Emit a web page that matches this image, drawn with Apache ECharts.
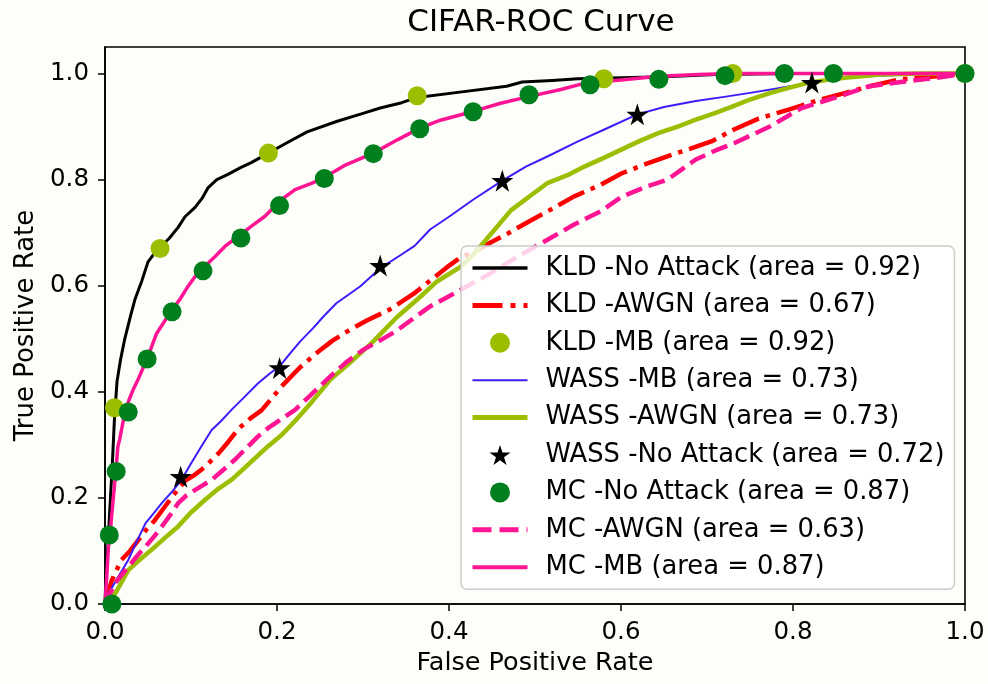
<!DOCTYPE html>
<html>
<head>
<meta charset="utf-8">
<script src="https://cdn.jsdelivr.net/npm/echarts@6/dist/echarts.min.js"></script>
<style>
  html, body { margin: 0; padding: 0; background: #fdfdf9; }
  #topline { position: absolute; left: 0; top: 0; width: 988px; height: 2px; background: #8a8a8a; }
  #chart { width: 988px; height: 684px; }
</style>
</head>
<body>
<div id="topline"></div>
<div id="chart"></div>
<script>
// ---- data ----
const xTicks = [0, 0.2, 0.4, 0.6, 0.8, 1.0];
const yTicks = [0, 0.2, 0.4, 0.6, 0.8, 1.0];

const seriesNames = [
  'KLD -No Attack (area = 0.92)',
  'KLD -AWGN (area = 0.67)',
  'KLD -MB (area = 0.92)',
  'WASS -MB (area = 0.73)',
  'WASS -AWGN (area = 0.73)',
  'WASS -No Attack (area = 0.72)',
  'MC -No Attack (area = 0.87)',
  'MC -AWGN (area = 0.63)',
  'MC -MB (area = 0.87)'
];

const kldNoAttackX = [0, 0.001, 0.003, 0.005, 0.007, 0.009, 0.011, 0.014, 0.018, 0.023, 0.030, 0.035, 0.043, 0.050, 0.057, 0.064, 0.075, 0.085, 0.093, 0.105, 0.113, 0.120, 0.130, 0.143, 0.157, 0.170, 0.190, 0.210, 0.235, 0.270, 0.300, 0.320, 0.345, 0.363, 0.408, 0.467, 0.485, 0.520, 0.550, 0.600, 0.650, 0.710, 0.800, 0.900, 1.0];
const kldNoAttackY = [0, 0.05, 0.10, 0.16, 0.22, 0.28, 0.35, 0.42, 0.46, 0.50, 0.545, 0.575, 0.61, 0.645, 0.66, 0.672, 0.69, 0.71, 0.73, 0.748, 0.765, 0.785, 0.80, 0.81, 0.822, 0.832, 0.85, 0.868, 0.89, 0.91, 0.925, 0.935, 0.945, 0.955, 0.964, 0.976, 0.984, 0.987, 0.99, 0.992, 0.994, 0.998, 1.0, 1.0, 1.0];

const kldAwgnX = [0, 0.008, 0.019, 0.029, 0.039, 0.048, 0.058, 0.068, 0.078, 0.093, 0.103, 0.112, 0.122, 0.132, 0.143, 0.155, 0.169, 0.182, 0.195, 0.207, 0.226, 0.246, 0.265, 0.285, 0.305, 0.331, 0.359, 0.380, 0.397, 0.413, 0.429, 0.450, 0.470, 0.494, 0.520, 0.545, 0.576, 0.601, 0.630, 0.654, 0.680, 0.705, 0.732, 0.760, 0.795, 0.830, 0.860, 0.889, 0.924, 0.967, 1.0];
const kldAwgnY = [0, 0.045, 0.083, 0.10, 0.121, 0.14, 0.158, 0.18, 0.202, 0.232, 0.242, 0.253, 0.268, 0.284, 0.305, 0.33, 0.35, 0.365, 0.39, 0.413, 0.445, 0.473, 0.497, 0.517, 0.535, 0.555, 0.585, 0.612, 0.634, 0.653, 0.664, 0.683, 0.70, 0.722, 0.745, 0.768, 0.79, 0.812, 0.83, 0.844, 0.858, 0.872, 0.895, 0.915, 0.932, 0.95, 0.963, 0.976, 0.989, 0.995, 1.0];

const kldMbX = [0.011, 0.064, 0.190, 0.363, 0.580, 0.730, 1.0];
const kldMbY = [0.37, 0.67, 0.85, 0.958, 0.99, 1.0, 1.0];

const wassMbX = [0, 0.004, 0.015, 0.027, 0.037, 0.047, 0.057, 0.066, 0.078, 0.089, 0.100, 0.112, 0.124, 0.135, 0.147, 0.162, 0.178, 0.192, 0.203, 0.215, 0.227, 0.242, 0.254, 0.269, 0.283, 0.297, 0.320, 0.343, 0.360, 0.378, 0.400, 0.428, 0.461, 0.490, 0.515, 0.550, 0.580, 0.619, 0.650, 0.687, 0.720, 0.752, 0.790, 0.821, 0.860, 0.900, 0.950, 1.0];
const wassMbY = [0, 0.02, 0.05, 0.083, 0.118, 0.152, 0.172, 0.19, 0.212, 0.234, 0.265, 0.297, 0.328, 0.345, 0.366, 0.39, 0.416, 0.435, 0.448, 0.472, 0.495, 0.52, 0.542, 0.567, 0.583, 0.599, 0.633, 0.657, 0.675, 0.706, 0.73, 0.762, 0.797, 0.825, 0.844, 0.872, 0.894, 0.923, 0.937, 0.948, 0.956, 0.964, 0.974, 0.982, 0.992, 0.996, 0.999, 1.0];

const wassAwgnX = [0, 0.012, 0.027, 0.040, 0.054, 0.070, 0.085, 0.099, 0.116, 0.130, 0.147, 0.162, 0.178, 0.190, 0.205, 0.221, 0.240, 0.262, 0.285, 0.312, 0.339, 0.370, 0.386, 0.413, 0.429, 0.450, 0.472, 0.495, 0.515, 0.540, 0.558, 0.580, 0.601, 0.622, 0.644, 0.666, 0.687, 0.710, 0.730, 0.750, 0.773, 0.795, 0.816, 0.840, 0.860, 0.902, 0.950, 1.0];
const wassAwgnY = [0, 0.02, 0.064, 0.083, 0.102, 0.125, 0.146, 0.171, 0.196, 0.215, 0.234, 0.256, 0.28, 0.298, 0.318, 0.345, 0.38, 0.423, 0.455, 0.495, 0.54, 0.584, 0.608, 0.635, 0.66, 0.70, 0.742, 0.77, 0.794, 0.81, 0.825, 0.841, 0.857, 0.873, 0.888, 0.90, 0.913, 0.926, 0.938, 0.951, 0.963, 0.973, 0.982, 0.988, 0.992, 0.998, 1.0, 1.0];

const wassNoAttackX = [0.088, 0.203, 0.320, 0.462, 0.619, 0.822];
const wassNoAttackY = [0.24, 0.445, 0.638, 0.798, 0.923, 0.983];

const mcNoAttackX = [0.008, 0.005, 0.013, 0.027, 0.049, 0.078, 0.114, 0.158, 0.203, 0.255, 0.312, 0.366, 0.428, 0.493, 0.564, 0.644, 0.721, 0.790, 0.847, 1.0];
const mcNoAttackY = [0.0, 0.13, 0.25, 0.362, 0.462, 0.551, 0.628, 0.69, 0.751, 0.802, 0.849, 0.896, 0.928, 0.96, 0.979, 0.989, 0.996, 1.0, 1.0, 1.0];

const mcAwgnX = [0, 0.012, 0.027, 0.037, 0.047, 0.057, 0.066, 0.076, 0.085, 0.095, 0.105, 0.115, 0.124, 0.137, 0.151, 0.165, 0.178, 0.190, 0.202, 0.221, 0.240, 0.262, 0.280, 0.300, 0.320, 0.339, 0.360, 0.378, 0.400, 0.421, 0.450, 0.480, 0.515, 0.545, 0.576, 0.601, 0.630, 0.654, 0.687, 0.710, 0.732, 0.773, 0.810, 0.850, 0.889, 0.930, 0.967, 1.0];
const mcAwgnY = [0, 0.04, 0.07, 0.09, 0.108, 0.127, 0.146, 0.168, 0.19, 0.205, 0.215, 0.225, 0.234, 0.252, 0.272, 0.295, 0.316, 0.332, 0.345, 0.366, 0.395, 0.429, 0.455, 0.479, 0.497, 0.515, 0.54, 0.561, 0.58, 0.599, 0.625, 0.655, 0.687, 0.715, 0.74, 0.768, 0.787, 0.80, 0.838, 0.855, 0.869, 0.90, 0.935, 0.955, 0.976, 0.985, 0.992, 1.0];

const mcMbX = [0, 0.002, 0.004, 0.006, 0.008, 0.012, 0.015, 0.017, 0.023, 0.028, 0.033, 0.039, 0.050, 0.060, 0.070, 0.078, 0.087, 0.095, 0.105, 0.115, 0.128, 0.140, 0.155, 0.170, 0.186, 0.205, 0.221, 0.240, 0.254, 0.280, 0.312, 0.340, 0.366, 0.390, 0.429, 0.460, 0.494, 0.530, 0.558, 0.600, 0.644, 0.690, 0.730, 0.800, 0.900, 1.0];
const mcMbY = [0, 0.05, 0.108, 0.134, 0.171, 0.24, 0.297, 0.31, 0.36, 0.385, 0.405, 0.425, 0.467, 0.51, 0.535, 0.555, 0.574, 0.595, 0.618, 0.635, 0.655, 0.675, 0.693, 0.712, 0.731, 0.762, 0.781, 0.793, 0.803, 0.828, 0.85, 0.875, 0.897, 0.912, 0.929, 0.944, 0.957, 0.97, 0.982, 0.988, 0.995, 0.998, 1.0, 1.0, 1.0, 1.0];

// ---- build ----
const zip = (xs, ys) => xs.map((x, i) => [x, ys[i]]);
const FONT = 'DejaVu Sans';
const C = {
  black: '#000000', red: '#ff0000', yg: '#9bbf00', blue: '#3a1dfb',
  green: '#007f1f', pink: '#ff1493'
};
const STAR = 'path://M50,0 L61.2,34.5 L97.6,34.5 L68.2,55.9 L79.4,90.5 L50,69.1 L20.6,90.5 L31.8,55.9 L2.4,34.5 L38.8,34.5 Z';
const HIDDEN = { color: 'rgba(0,0,0,0)', borderColor: 'rgba(0,0,0,0)', borderWidth: 0, opacity: 0 };

function lineSeries(name, xs, ys, color, width, type) {
  return {
    name, type: 'line', data: zip(xs, ys), symbol: 'none', showSymbol: false,
    lineStyle: { color, width, type: type || 'solid', cap: 'butt', join: 'round' },
    itemStyle: { color }, z: 2
  };
}
function scatterSeries(name, xs, ys, color, symbol, size) {
  return {
    name, type: 'scatter', data: zip(xs, ys), symbol, symbolSize: size,
    itemStyle: { color, opacity: 1 }, z: 2
  };
}

const series = [
  lineSeries(seriesNames[0], kldNoAttackX, kldNoAttackY, C.black, 3),
  lineSeries(seriesNames[1], kldAwgnX, kldAwgnY, C.red, 4.5, [29, 7, 4.5, 7]),
  scatterSeries(seriesNames[2], kldMbX, kldMbY, C.yg, 'circle', 19),
  lineSeries(seriesNames[3], wassMbX, wassMbY, C.blue, 2),
  lineSeries(seriesNames[4], wassAwgnX, wassAwgnY, C.yg, 4.5),
  scatterSeries(seriesNames[5], wassNoAttackX, wassNoAttackY, C.black, STAR, 22),
  scatterSeries(seriesNames[6], mcNoAttackX, mcNoAttackY, C.green, 'circle', 19),
  lineSeries(seriesNames[7], mcAwgnX, mcAwgnY, C.pink, 4.5, [17, 7]),
  lineSeries(seriesNames[8], mcMbX, mcMbY, C.pink, 3.5)
];

const legendData = [
  { name: seriesNames[0], itemStyle: HIDDEN, lineStyle: { width: 3.5, color: C.black } },
  { name: seriesNames[1], itemStyle: HIDDEN, lineStyle: { width: 5, color: C.red, type: [30, 8, 5, 8] } },
  { name: seriesNames[2], icon: 'circle', itemStyle: { color: C.yg } },
  { name: seriesNames[3], itemStyle: HIDDEN, lineStyle: { width: 2, color: C.blue } },
  { name: seriesNames[4], itemStyle: HIDDEN, lineStyle: { width: 5, color: C.yg } },
  { name: seriesNames[5], icon: STAR, itemStyle: { color: C.black } },
  { name: seriesNames[6], icon: 'circle', itemStyle: { color: C.green } },
  { name: seriesNames[7], itemStyle: HIDDEN, lineStyle: { width: 5, color: C.pink, type: [19, 8] } },
  { name: seriesNames[8], itemStyle: HIDDEN, lineStyle: { width: 4, color: C.pink } }
];

const axisText = { fontFamily: FONT, fontSize: 24.5, color: '#000' };

const option = {
  backgroundColor: '#fdfdf9',
  animation: false,
  title: {
    text: 'CIFAR-ROC Curve', left: 536, top: 2, textAlign: 'center',
    textStyle: { fontFamily: FONT, fontSize: 31, fontWeight: 'normal', color: '#000' }
  },
  grid: {
    left: 105, right: 23, top: 47, bottom: 80, show: true,
    borderColor: '#000', borderWidth: 1.6, backgroundColor: 'transparent'
  },
  xAxis: {
    type: 'value', min: 0, max: 1, interval: 0.2,
    name: 'False Positive Rate', nameLocation: 'middle', nameGap: 46,
    nameTextStyle: { fontFamily: FONT, fontSize: 25.5, color: '#000' },
    axisLine: { show: true, lineStyle: { color: '#000', width: 1.6 } },
    axisTick: { show: true, length: 7, lineStyle: { color: '#000', width: 1.5 }, customValues: xTicks },
    axisLabel: { ...axisText, margin: 16, customValues: xTicks, formatter: v => v.toFixed(1) },
    splitLine: { show: false }
  },
  yAxis: {
    type: 'value', min: 0, max: 1.05, interval: 0.2,
    name: 'True Positive Rate', nameLocation: 'middle', nameGap: 63,
    nameTextStyle: { fontFamily: FONT, fontSize: 26, color: '#000' },
    axisLine: { show: true, lineStyle: { color: '#000', width: 1.6 } },
    axisTick: { show: true, length: 7, lineStyle: { color: '#000', width: 1.5 }, customValues: yTicks },
    axisLabel: { ...axisText, margin: 16, customValues: yTicks, formatter: v => v.toFixed(1) },
    splitLine: { show: false }
  },
  legend: {
    orient: 'vertical', left: 461, top: 246,
    padding: [9, 10, 9, 9],
    itemWidth: 55, itemHeight: 20, itemGap: 11.4,
    selectedMode: false,
    backgroundColor: 'rgba(255,255,255,0.8)', borderColor: '#cccccc', borderWidth: 1.5, borderRadius: 6,
    textStyle: { fontFamily: FONT, fontSize: 25.8, color: '#000', lineHeight: 26, padding: [0, 0, 0, 13] },
    data: legendData
  },
  series
};

const chart = echarts.init(document.getElementById('chart'), null, { renderer: 'canvas' });
chart.setOption(option);
</script>
</body>
</html>
